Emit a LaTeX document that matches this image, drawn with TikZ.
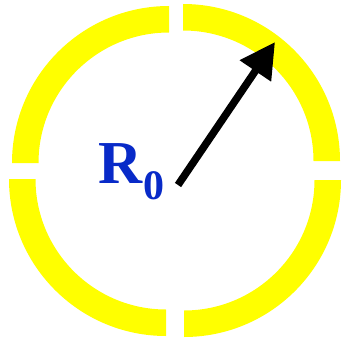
\documentclass[tikz,border=0pt]{standalone}
\usepackage{fontspec}
\setmainfont{Liberation Serif}
\usetikzlibrary{arrows.meta}
\definecolor{ringyellow}{RGB}{255,255,0}
\definecolor{labelblue}{RGB}{8,42,200}
\tikzset{
  ring/.style={fill=ringyellow, draw=none},
  label/.style={anchor=base west, inner sep=0pt, text=labelblue, font=\bfseries},
  radiusarrow/.style={line width=7.5pt, -{Triangle[length=35pt,width=36pt]}}
}
\newcommand{\quarterring}[3]{% center, start angle, end angle
  \fill[ring] ([shift={#1}]#2:157pt) arc[start angle=#2,end angle=#3,radius=157pt]
    -- ([shift={#1}]#3:130.5pt) arc[start angle=#3,end angle=#2,radius=130.5pt] -- cycle;
}
\begin{document}
\begin{tikzpicture}
\useasboundingbox (0pt,0pt) rectangle (342pt,338pt);
\quarterring{(169pt,175pt)}{90}{180}
\quarterring{(183pt,177pt)}{0}{90}
\quarterring{(166pt,159pt)}{180}{270}
\quarterring{(184pt,158pt)}{270}{360}
\node[label, font=\bfseries\fontsize{61}{61}\selectfont] (R) at (98pt,155pt) {R};
\node[label, font=\bfseries\fontsize{42}{42}\selectfont] (sub) at (143pt,139pt) {0};
\coordinate (start) at (178pt,153pt);
\coordinate (tip) at (275pt,296pt);
\draw[radiusarrow] (start) -- (tip);
\end{tikzpicture}
\end{document}
